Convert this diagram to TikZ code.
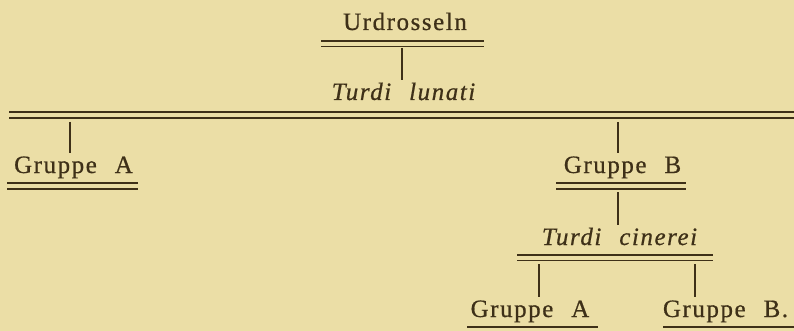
\documentclass[tikz,border=0pt]{standalone}
\usepackage{fontspec}
\setmainfont{Liberation Serif}[LetterSpace=6.2,WordSpace=2.3,FakeBold=0.6]
\definecolor{paper}{RGB}{235,222,166}
\definecolor{ink}{RGB}{62,48,24}
\begin{document}
\begin{tikzpicture}[x=1pt,y=-1pt,
  lbl/.style={anchor=base,inner sep=0pt,text=ink,font=\fontsize{25}{27}\selectfont},
  ilbl/.style={lbl,font=\fontsize{25}{27}\selectfont\itshape},
  rule/.style={draw=ink,line width=1.5pt},
  stem/.style={draw=ink,line width=1.1pt}]
\fill[paper] (0,0) rectangle (794,331);
\useasboundingbox (0,0) rectangle (794,331);
% texts
\node[lbl]  (ur)  at (405,30)   {Urdrosseln};
\node[ilbl] (tl)  at (403.5,100) {Turdi lunati};
\node[lbl]  (ga)  at (73.5,173) {Gruppe A};
\node[lbl]  (gb)  at (622.5,173) {Gruppe B};
\node[ilbl] (tc)  at (619.5,245) {Turdi cinerei};
\node[lbl]  (ga2) at (530,317)  {Gruppe A};
\node[lbl]  (gb2) at (725.5,317) {Gruppe B.};
% double rules
\draw[rule] (321,41) -- (484,41) (321,46.5) -- (484,46.5);
\draw[rule] (9,112) -- (794,112) (9,118) -- (794,118);
\draw[rule] (7,183) -- (138,183) (7,189) -- (138,189);
\draw[rule] (556,183) -- (686,183) (556,189) -- (686,189);
\draw[rule] (517,255) -- (713,255) (517,260.5) -- (713,260.5);
\draw[rule] (467,327) -- (598,327);
\draw[rule] (663,327) -- (794,327);
% stems
\coordinate (s1a) at (402,48);  \coordinate (s1b) at (402,80);
\coordinate (s2a) at (70,122);  \coordinate (s2b) at (70,153);
\coordinate (s3a) at (618,122); \coordinate (s3b) at (618,153);
\coordinate (s4a) at (618,192); \coordinate (s4b) at (618,225);
\coordinate (s5a) at (539,264); \coordinate (s5b) at (539,297);
\coordinate (s6a) at (695,264); \coordinate (s6b) at (695,297);
\draw[stem] (s1a) -- (s1b);
\draw[stem] (s2a) -- (s2b);
\draw[stem] (s3a) -- (s3b);
\draw[stem] (s4a) -- (s4b);
\draw[stem] (s5a) -- (s5b);
\draw[stem] (s6a) -- (s6b);
\end{tikzpicture}
\end{document}
